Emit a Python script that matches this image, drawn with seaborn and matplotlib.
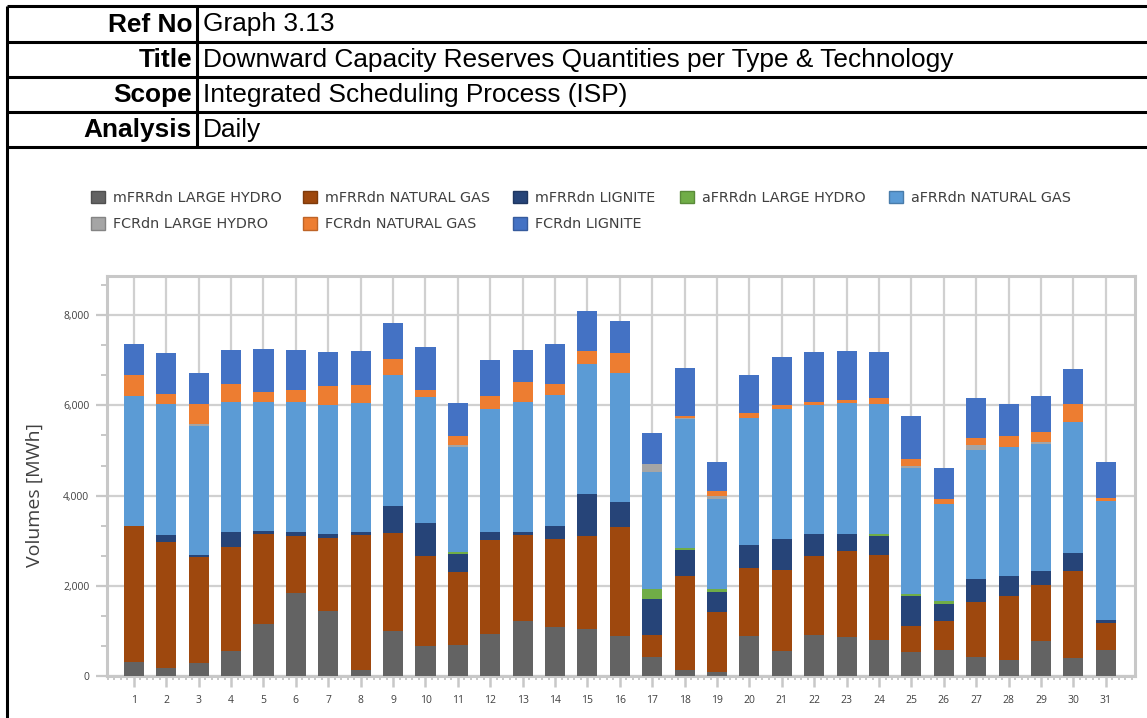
import numpy as np
import matplotlib
matplotlib.use("Agg")
import matplotlib.pyplot as plt
import seaborn as sns
from matplotlib.patches import Patch
from matplotlib.lines import Line2D
from matplotlib.ticker import MultipleLocator, FuncFormatter

# ---- data: daily downward capacity reserves (MWh) ----
days = [str(d) for d in range(1, 32)]

mfrr_large_hydro = [311, 178, 296, 563, 1156, 1844, 1444, 133, 1000, 667,
                    689, 933, 1222, 1089, 1044, 889, 422, 133, 89, 889,
                    556, 911, 867, 800, 533, 578, 422, 356, 778, 400, 578]
mfrr_natural_gas = [3022, 2800, 2348, 2304, 2000, 1267, 1623, 3000, 2178, 2000,
                    1622, 2089, 1911, 1955, 2067, 2422, 489, 2089, 1333, 1511,
                    1800, 1756, 1911, 1889, 578, 644, 1222, 1422, 1244, 1933, 600]
mfrr_lignite = [0, 155, 45, 333, 66, 89, 89, 67, 600, 733,
                400, 178, 67, 289, 933, 556, 800, 578, 445, 511,
                688, 489, 378, 422, 667, 378, 512, 444, 311, 400, 66]
afrr_large_hydro = [0, 0, 0, 0, 0, 0, 0, 0, 0, 0,
                    45, 0, 0, 0, 0, 0, 222, 44, 66, 0,
                    0, 0, 0, 45, 44, 67, 0, 0, 0, 0, 0]
afrr_natural_gas = [2867, 2889, 2852, 2867, 2845, 2867, 2844, 2844, 2889, 2778,
                    2333, 2711, 2867, 2889, 2867, 2844, 2600, 2845, 2000, 2800,
                    2867, 2844, 2888, 2866, 2800, 2155, 2866, 2867, 2815, 2889, 2645]
fcr_large_hydro = [0, 0, 37, 0, 0, 0, 0, 0, 0, 0,
                   44, 0, 0, 0, 0, 0, 178, 22, 67, 0,
                   0, 0, 0, 0, 45, 0, 111, 0, 52, 0, 0]
fcr_natural_gas = [467, 222, 444, 400, 222, 266, 422, 400, 355, 155,
                   200, 289, 444, 245, 289, 445, 0, 45, 111, 111,
                   89, 67, 67, 134, 155, 111, 134, 244, 200, 400, 67]
fcr_lignite = [689, 912, 689, 755, 955, 889, 756, 756, 800, 956,
               711, 800, 711, 889, 889, 711, 667, 1066, 645, 845,
               1067, 1111, 1089, 1022, 934, 689, 889, 689, 800, 778, 800]

series_names = ["mFRRdn LARGE HYDRO", "mFRRdn NATURAL GAS", "mFRRdn LIGNITE",
                "aFRRdn LARGE HYDRO", "aFRRdn NATURAL GAS",
                "FCRdn LARGE HYDRO", "FCRdn NATURAL GAS", "FCRdn LIGNITE"]
series_values = [mfrr_large_hydro, mfrr_natural_gas, mfrr_lignite,
                 afrr_large_hydro, afrr_natural_gas,
                 fcr_large_hydro, fcr_natural_gas, fcr_lignite]
series_colors = ["#636363", "#9e480e", "#264478", "#70ad47", "#5b9bd5",
                 "#a5a5a5", "#ed7d31", "#4472c4"]

header_keys = ["Ref No", "Title", "Scope", "Analysis"]
header_values = ["Graph 3.13",
                 "Downward Capacity Reserves Quantities per Type & Technology",
                 "Integrated Scheduling Process (ISP)",
                 "Daily"]

# ---- figure ----
W, H = 1147, 718
sns.set_theme(style="white")
plt.rcParams["font.family"] = ["DejaVu Sans"]

fig = plt.figure(figsize=(W / 100, H / 100), dpi=100)
fig.patch.set_facecolor("white")


def fx(px):
    return px / W


def fy(py):
    return 1 - py / H


ax_left, ax_right, ax_top, ax_bottom = 107.3, 1135, 276, 676
ax = fig.add_axes([fx(ax_left), fy(ax_bottom),
                   (ax_right - ax_left) / W, (ax_bottom - ax_top) / H])

bottom = np.zeros(len(days))
for name, vals, col in zip(series_names, series_values, series_colors):
    sns.barplot(x=days, y=vals, bottom=bottom, color=col, saturation=1,
                width=0.62, errorbar=None, edgecolor="none", linewidth=0,
                ax=ax, zorder=3)
    bottom = bottom + np.asarray(vals, dtype=float)

# axes limits, grid and ticks
grid_col = "#d0d0d0"
ax.set_xlim(-0.82, 30.9)
ax.set_ylim(0, 8870)
ax.yaxis.set_major_locator(MultipleLocator(2000))
ax.yaxis.set_minor_locator(MultipleLocator(2000 / 3))
ax.xaxis.set_minor_locator(MultipleLocator(0.2))
ax.yaxis.set_major_formatter(FuncFormatter(lambda v, p: f"{v:,.0f}"))
ax.set_axisbelow(True)
ax.grid(True, which="major", axis="both", color=grid_col, linewidth=1.6, zorder=0)
ax.grid(False, which="minor")

for sp in ax.spines.values():
    sp.set_visible(True)
    sp.set_color("#c8c8c8")
    sp.set_linewidth(2.2)

ax.tick_params(axis="both", which="both", direction="out", color="#c8c8c8",
               labelcolor="#404040", labelsize=7.5)
ax.tick_params(axis="y", which="major", left=True, length=8, width=1.6, pad=5)
ax.tick_params(axis="y", which="minor", left=True, length=4.5, width=1.4)
ax.tick_params(axis="x", which="major", bottom=True, length=8, width=1.8, pad=6)
ax.tick_params(axis="x", which="minor", bottom=True, length=3, width=1.4)
for lab in ax.get_xticklabels() + ax.get_yticklabels():
    lab.set_family(["Open Sans", "DejaVu Sans"])
ax.set_xlabel("")
ax.set_ylabel("Volumes [MWh]", fontsize=14, color="#404040",
              family=["Open Sans", "DejaVu Sans"])
ax.yaxis.set_label_coords((44 - ax_left) / (ax_right - ax_left),
                          (ax_bottom - 495) / (ax_bottom - ax_top))

# legend: five columns, two rows, each column anchored at its own x position
legend_columns = [[0, 5], [1, 6], [2, 7], [3], [4]]
legend_x = [91, 303, 513, 680, 889]
for idxs, x0 in zip(legend_columns, legend_x):
    handles = []
    for i in idxs:
        c = series_colors[i]
        edge = tuple(v * 0.8 for v in matplotlib.colors.to_rgb(c))
        handles.append(Patch(facecolor=c, edgecolor=edge, linewidth=1.0,
                             label=series_names[i]))
    fig.legend(handles=handles, ncol=1, loc="upper left",
               bbox_to_anchor=(fx(x0), fy(191)), frameon=False,
               prop={"family": ["DejaVu Sans"], "size": 10.4},
               labelcolor="#404040", handlelength=0.95, handleheight=0.95,
               handletextpad=0.55, labelspacing=0.83,
               borderaxespad=0, borderpad=0)

# header table
line_kw = dict(transform=fig.transFigure, color="black", linewidth=2.2,
               solid_capstyle="butt")
row_lines = [6, 42, 77, 112, 147]
for y in row_lines:
    fig.add_artist(Line2D([fx(7), fx(W)], [fy(y), fy(y)], **line_kw))
fig.add_artist(Line2D([fx(197), fx(197)], [fy(6), fy(147)], **line_kw))
fig.add_artist(Line2D([fx(7), fx(7)], [fy(6), fy(H)], **line_kw))

for i, (k, v) in enumerate(zip(header_keys, header_values)):
    yc = (row_lines[i] + row_lines[i + 1]) / 2 + 0.5
    fig.text(fx(192), fy(yc), k, ha="right", va="center", fontsize=18.9,
             fontweight="bold", family=["Liberation Sans", "DejaVu Sans"],
             color="black")
    fig.text(fx(203), fy(yc), v, ha="left", va="center", fontsize=18.9,
             family=["Liberation Sans", "DejaVu Sans"], color="black")

fig.savefig("out.png", dpi=100, facecolor="white")
